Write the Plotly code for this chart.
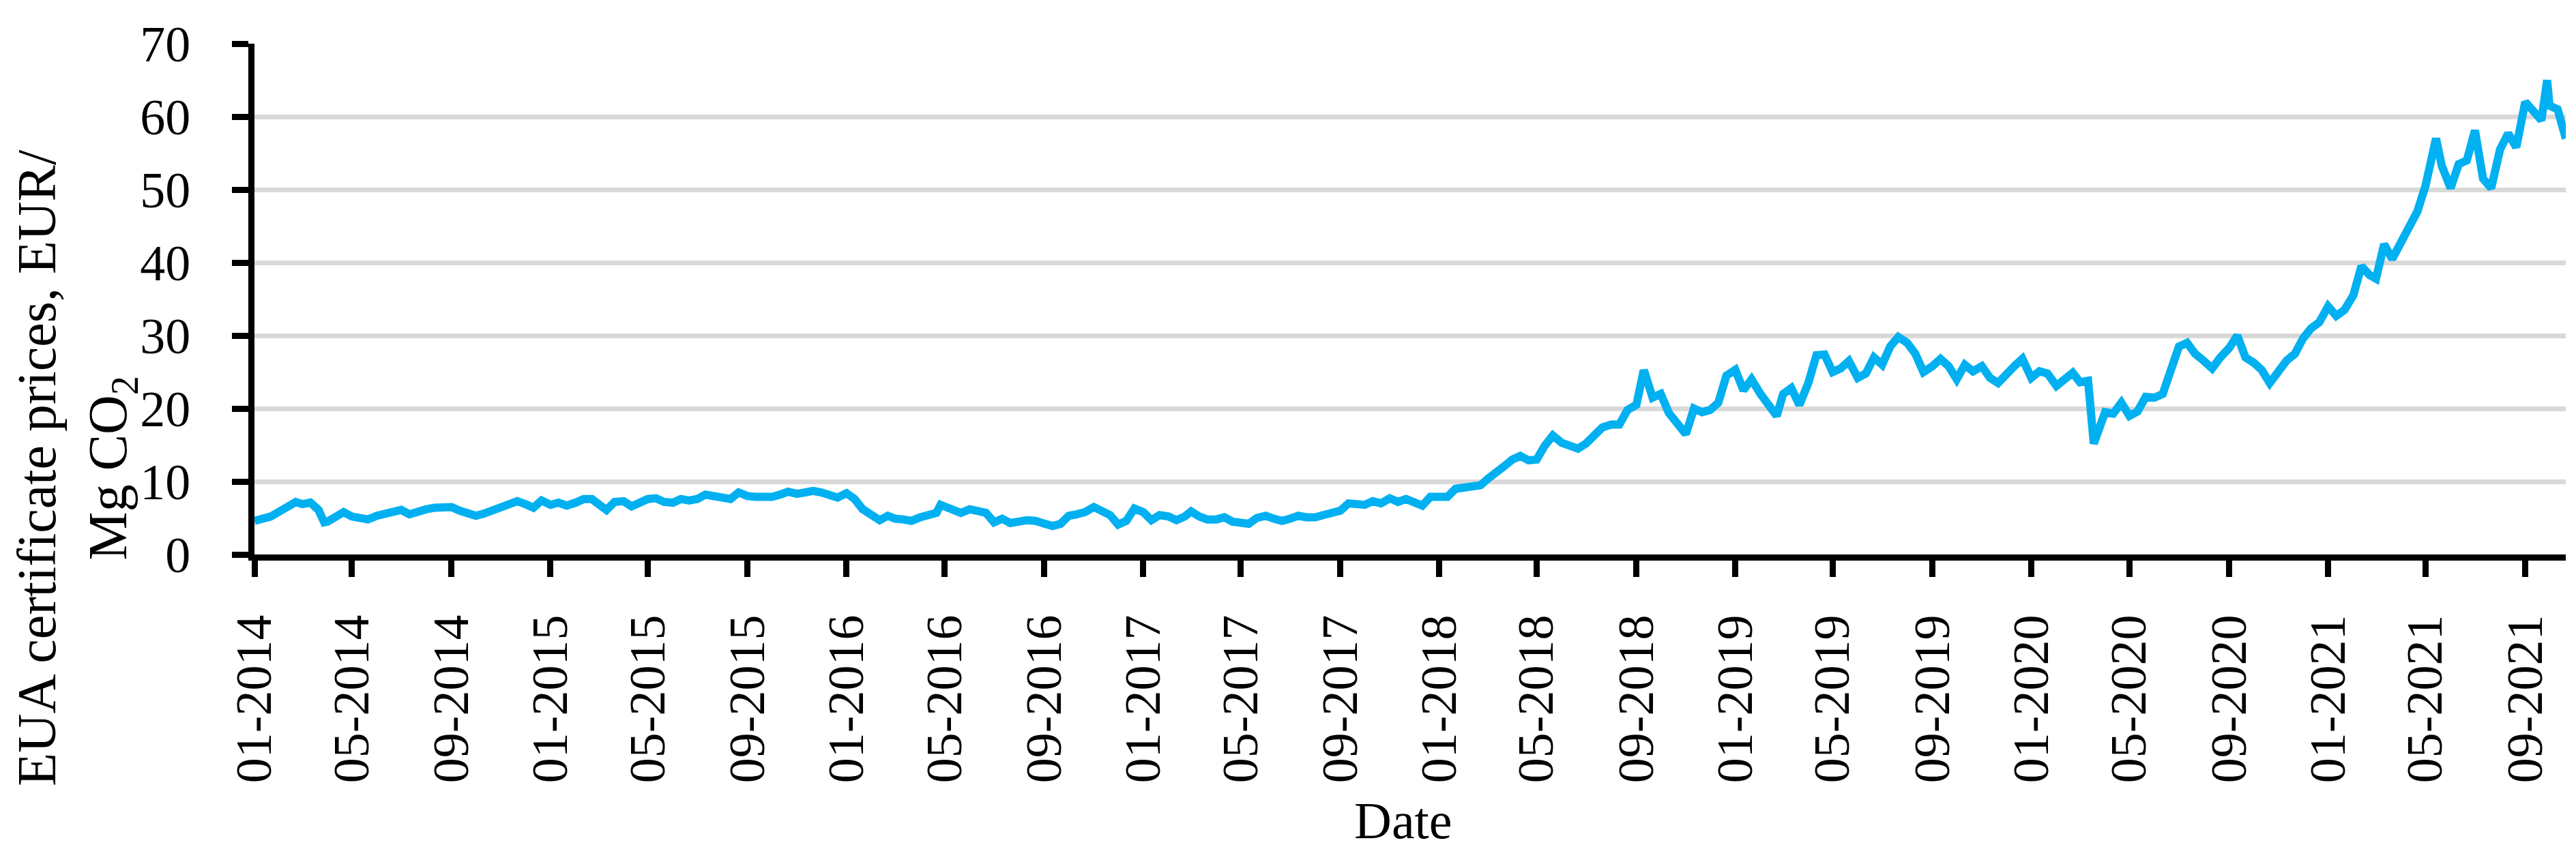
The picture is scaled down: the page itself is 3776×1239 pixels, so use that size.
import pandas as pd
import plotly.graph_objects as go

price_2014 = [4.6, 4.8, 5.2, 5.9, 6.5, 7.2, 6.9, 7.1, 6.1, 4.5, 5.3, 5.8,
              5.2, 5.1, 4.8, 5.3, 5.5, 5.7, 6.1, 5.5, 5.9, 6.2, 6.4, 6.5,
              6.5, 6.0, 5.5, 5.3, 5.6, 6.0, 6.3, 6.8, 7.3, 6.9, 6.4, 7.4]
price_2015 = [6.8, 7.1, 6.7, 7.1, 7.6, 7.6, 6.8, 6.1, 7.2, 7.3, 6.6, 7.2,
              7.6, 7.7, 7.2, 7.1, 7.6, 7.4, 7.6, 8.2, 8.0, 7.6, 7.6, 8.5,
              8.0, 7.9, 7.9, 7.9, 8.2, 8.6, 8.3, 8.5, 8.7, 8.5, 8.2, 7.8]
price_2016 = [8.4, 7.6, 6.2, 5.5, 4.7, 5.3, 4.9, 4.8, 4.6, 5.1, 5.4, 5.7,
              6.6, 6.2, 5.7, 6.2, 6.0, 5.7, 4.4, 4.9, 4.3, 4.6, 4.7, 4.6,
              4.3, 3.9, 4.2, 5.3, 5.5, 5.8, 6.5, 6.0, 5.4, 4.1, 4.6, 6.3]
price_2017 = [5.8, 4.7, 5.4, 5.2, 4.7, 5.2, 5.9, 5.2, 4.8, 4.8, 5.1, 4.5,
              4.3, 4.2, 5.0, 5.3, 4.9, 4.6, 4.9, 5.3, 5.1, 5.1, 5.4, 5.8,
              6.0, 7.0, 6.9, 6.8, 7.3, 7.0, 7.7, 7.2, 7.6, 7.1, 6.7, 7.9]
price_2018 = [7.9, 7.9, 9.0, 9.2, 9.6, 9.5, 10.3, 11.3, 12.0, 13.0, 13.5, 12.9,
              13.0, 14.9, 16.3, 15.3, 15.0, 14.5, 15.2, 16.2, 17.4, 17.8, 17.8, 19.8,
              20.5, 25.0, 21.5, 22.0, 19.4, 18.0, 16.5, 20.0, 19.5, 19.8, 20.8, 24.5]
price_2019 = [25.3, 22.5, 24.0, 22.0, 20.5, 19.0, 22.0, 22.8, 20.5, 23.5, 27.3, 27.4,
              25.0, 25.5, 26.5, 24.2, 24.8, 27.0, 26.0, 28.5, 29.8, 29.0, 27.5, 25.0,
              25.8, 26.8, 25.8, 24.0, 26.0, 25.1, 25.8, 24.2, 23.5, 24.8, 25.8, 26.8]
price_2020 = [24.2, 25.1, 24.8, 23.1, 24.0, 24.9, 23.6, 23.8, 16.2, 19.5, 19.3, 20.8,
              19.0, 19.6, 21.6, 21.5, 22.0, 25.2, 28.5, 29.0, 27.5, 26.5, 25.5, 27.0,
              28.3, 30.0, 27.0, 26.3, 25.3, 23.5, 25.2, 26.6, 27.5, 29.6, 31.0, 31.8]
price_2021 = [34.0, 32.7, 33.5, 35.5, 39.5, 38.3, 37.8, 42.5, 40.5, 43.0, 44.8, 47.0,
              50.5, 55.5, 53.3, 50.2, 53.5, 54.0, 58.1, 51.5, 50.2, 55.5, 57.7, 55.8,
              62.0, 60.8, 59.5, 61.5, 61.0, 57.0]

# short spikes and drops that fall between the sampled days
spike_dates = ["2014-03-28", "2016-04-26", "2018-09-10", "2020-03-18", "2021-05-14", "2021-09-28"]
spike_values = [4.4, 6.8, 25.2, 15.2, 57.0, 65.0]

y_ticks = [0, 10, 20, 30, 40, 50, 60, 70]

FONT = "Liberation Serif"
LINE_BLUE = "#00b0f0"


def build_series() -> pd.DataFrame:
    yearly = {
        2014: price_2014, 2015: price_2015, 2016: price_2016, 2017: price_2017,
        2018: price_2018, 2019: price_2019, 2020: price_2020, 2021: price_2021,
    }
    rows = []
    for year, vals in yearly.items():
        for i, v in enumerate(vals):
            rows.append((pd.Timestamp(year, i // 3 + 1, (1, 11, 21)[i % 3]), v))
    rows += [(pd.Timestamp(d), v) for d, v in zip(spike_dates, spike_values)]
    return pd.DataFrame(rows, columns=["date", "price"]).sort_values("date")


df = build_series()

fig = go.Figure(
    go.Scatter(
        x=df["date"],
        y=df["price"],
        mode="lines",
        line=dict(color=LINE_BLUE, width=12),
        name="EUA",
    )
)

fig.update_layout(
    width=3776,
    height=1239,
    margin=dict(l=365, r=23, t=56, b=434),
    plot_bgcolor="white",
    paper_bgcolor="white",
    showlegend=False,
    font=dict(family=FONT, size=74, color="black"),
    xaxis=dict(
        type="date",
        range=["2014-01-01", "2021-10-21"],
        tick0="2014-01-01",
        dtick="M4",
        tickformat="%m-%Y",
        tickangle=-90,
        showline=True, linecolor="black", linewidth=9,
        ticks="outside", ticklen=24, tickwidth=9, tickcolor="black",
        showgrid=False, zeroline=False,
        ticklabelstandoff=26,
    ),
    yaxis=dict(
        range=[0, 70],
        tickvals=y_ticks,
        showline=True, linecolor="black", linewidth=9,
        ticks="outside", ticklen=24, tickwidth=9, tickcolor="black",
        gridcolor="#d9d9d9", gridwidth=7,
        zeroline=False,
        ticklabelstandoff=46,
    ),
    annotations=[
        dict(
            text="EUA certificate prices, EUR/<br>Mg CO<sub>2</sub>",
            textangle=-90,
            xref="paper", yref="paper",
            x=-0.077, y=0.17,
            xanchor="center", yanchor="middle",
            showarrow=False,
            font=dict(family=FONT, size=80, color="black"),
        ),
        dict(
            text="Date",
            xref="paper", yref="paper",
            x=0.497, y=-0.521,
            xanchor="center", yanchor="middle",
            showarrow=False,
            font=dict(family=FONT, size=76, color="black"),
        ),
    ],
)

fig.write_html("out.html")
